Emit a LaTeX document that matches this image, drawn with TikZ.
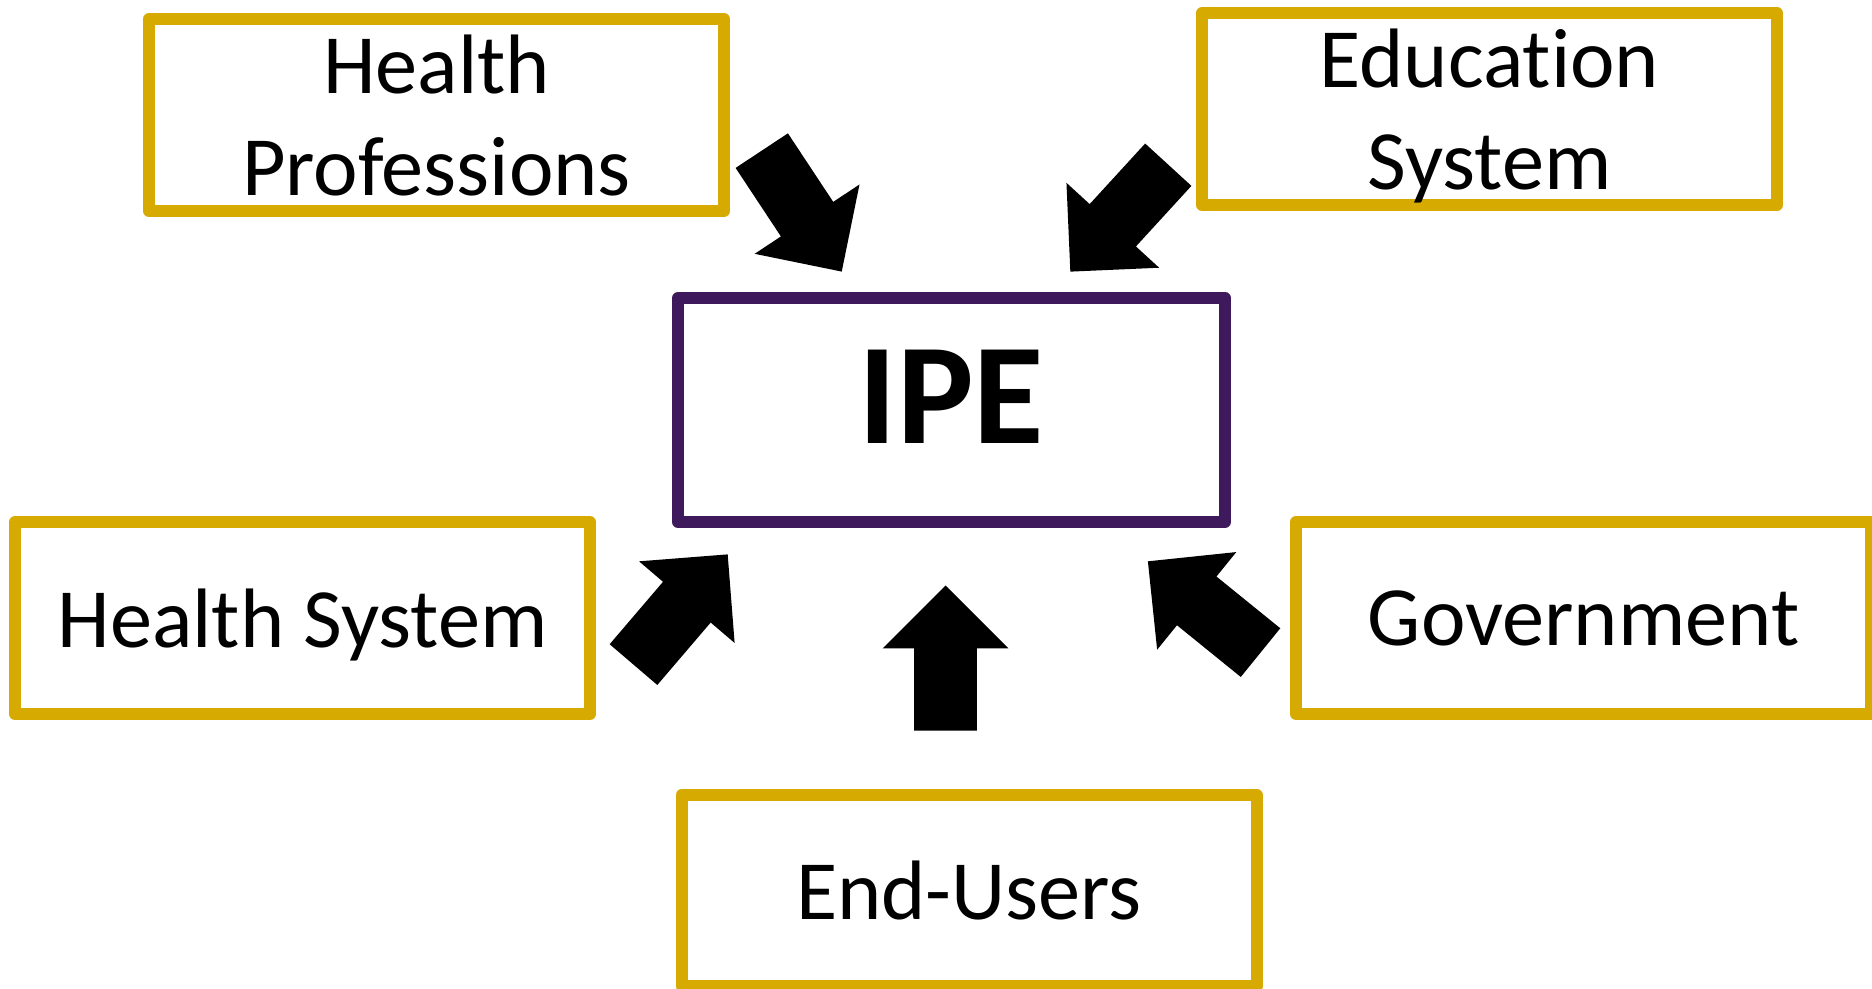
\documentclass[tikz,border=0pt]{standalone}
\usepackage{fontspec}
\setmainfont{Carlito}[Ligatures=NoCommon]
\usetikzlibrary{shapes.arrows}
\definecolor{ipegold}{RGB}{214,170,0}
\definecolor{ipepurple}{RGB}{62,26,92}

\begin{document}
\begin{tikzpicture}[
  party/.style={draw=ipegold, line width=0.24cm, line join=round, inner sep=0pt,
    minimum width=11.5cm, minimum height=3.84cm, align=center, text depth=0pt,
    font=\fontsize{48}{58}\selectfont},
  hub/.style={draw=ipepurple, line width=0.24cm, line join=round, inner sep=0pt,
    minimum width=10.94cm, minimum height=4.48cm, text depth=0.52cm,
    font=\fontsize{82}{98}\selectfont\bfseries},
  bigarrow/.style={single arrow, fill=black, draw=none, inner xsep=0pt,
    inner ysep=0.62cm, sloped, allow upside down, minimum height=2.9cm,
    single arrow head extend=0.63cm, single arrow tip angle=90,
    single arrow head indent=0pt, pos=1, anchor=tip}
]
\useasboundingbox (0,0) rectangle (37.44,19.76);
% IPE in the middle
\node[hub] (ipe) at (19.03,11.56) {IPE};
% Parties round it
\node[party] (hprof) at (8.73,17.46) {Health\\Professions};
\node[party] (edu) at (29.79,17.58) {Education\\System};
\node[party] (hsys) at (6.05,7.40) {Health System};
\node[party] (gov) at (31.67,7.40) {Government};
\node[party, minimum height=3.82cm] (users) at (19.38,1.95) {End-Users};
% Health Professions arrow
\coordinate (hprof-out) at (15.24,16.74);
\coordinate (hprof-in) at (16.84,14.32);
\path (hprof-out) -- node[bigarrow] (hprof-arrow) {} (hprof-in);
% Education System arrow
\coordinate (edu-out) at (23.36,16.46);
\coordinate (edu-in) at (21.40,14.32);
\path (edu-out) -- node[bigarrow] (edu-arrow) {} (edu-in);
% Health System arrow
\coordinate (hsys-out) at (12.68,6.48);
\coordinate (hsys-in) at (14.56,8.68);
\path (hsys-out) -- node[bigarrow] (hsys-arrow) {} (hsys-in);
% End-Users arrow
\coordinate (users-out) at (18.91,5.18);
\coordinate (users-in) at (18.91,8.06);
\path (users-out) -- node[bigarrow] (users-arrow) {} (users-in);
% Government arrow
\coordinate (gov-out) at (25.22,6.70);
\coordinate (gov-in) at (22.95,8.54);
\path (gov-out) -- node[bigarrow] (gov-arrow) {} (gov-in);
\end{tikzpicture}
\end{document}
